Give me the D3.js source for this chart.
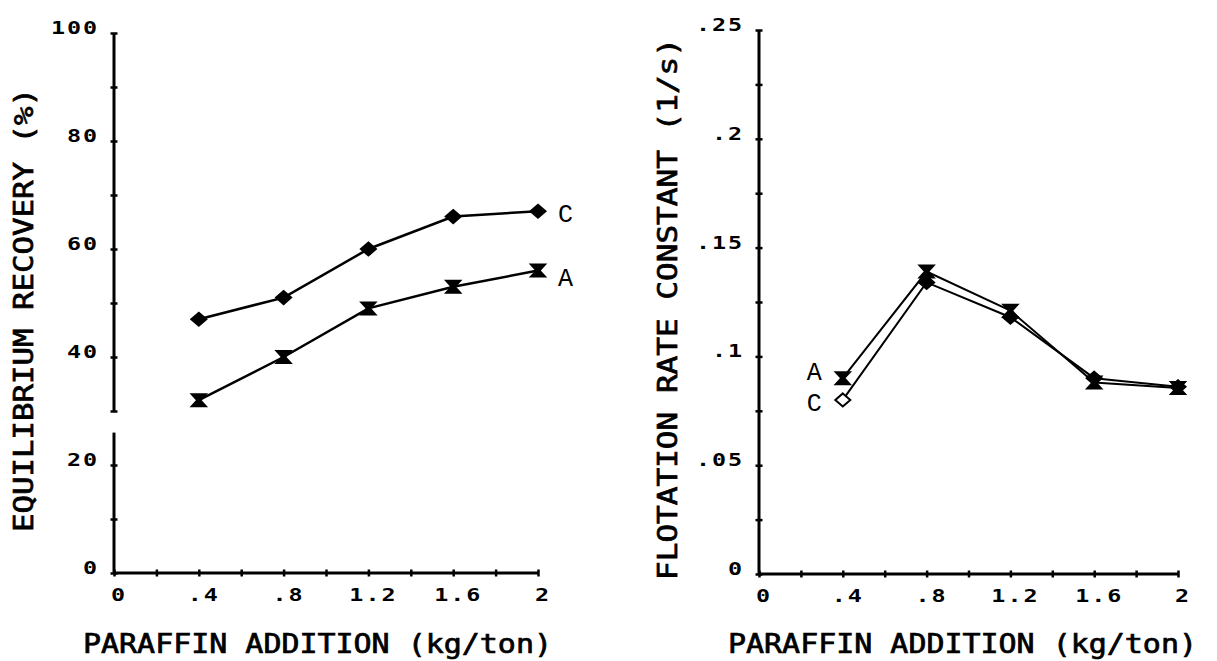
<!DOCTYPE html>
<html>
<head>
<meta charset="utf-8">
<script src="https://cdn.jsdelivr.net/npm/d3@7"></script>
<style>
  body { margin: 0; background: #fff; }
  svg { display: block; }
  .tick-label { font-family: "DejaVu Sans Mono", monospace; font-weight: bold; font-size: 18px; letter-spacing: 1.5px; fill: #000; }
  .title { font-family: "DejaVu Sans Mono", monospace; font-size: 26px; fill: #000; stroke: #000; stroke-width: 0.7px; }
  .series-label { font-family: "Liberation Mono", "Courier New", monospace; font-size: 25px; fill: #000; }
</style>
</head>
<body>
<svg id="chart" width="1217" height="661"></svg>
<script>
// Paraffin addition (kg/ton)
const paraffin = [0.4, 0.8, 1.2, 1.6, 2.0];

// Equilibrium recovery (%)
const recoveryC = [47, 51, 60, 66, 67];
const recoveryA = [32, 40, 49, 53, 56];

// Flotation rate constant (1/s)
const rateA = [0.090, 0.139, 0.121, 0.088, 0.0855];
const rateC = [0.080, 0.134, 0.118, 0.090, 0.086];

// Axis ticks
const xTickValues = [0, 0.4, 0.8, 1.2, 1.6, 2];
const xMinorStep = 0.2;
const recoveryTickValues = [0, 20, 40, 60, 80, 100];
const recoveryMinorStep = 10;
const rateTickValues = [0, 0.05, 0.1, 0.15, 0.2, 0.25];
const rateMinorStep = 0.025;
const recoveryAxisGap = [26, 30]; // break in the recovery axis line

const xTitle = "PARAFFIN ADDITION (kg/ton)";
const recoveryTitle = "EQUILIBRIUM RECOVERY (%)";
const rateTitle = "FLOTATION RATE CONSTANT (1/s)";

const svg = d3.select("#chart");

// strip leading zero: 0.25 -> ".25"
const fmt = d => d === 0 ? "0" : String(+d.toFixed(3)).replace(/^0\./, ".");

const diamond = "M0,-6.5L7.5,0L0,6.5L-7.5,0Z";
const hourglass = "M-7,-6H7L1.5,0L7,6H-7L-1.5,0Z";

// wide, square plotter-style digits
const labelScaleX = 1.3;

function drawPanel(cfg) {
  const x = d3.scaleLinear().domain([0, 2]).range(cfg.xRange);
  const y = d3.scaleLinear().domain(cfg.yDomain).range(cfg.yRange);
  const g = svg.append("g");
  const x0 = x(0), y0 = y(cfg.yDomain[0]);

  const xMinor = d3.range(0, 2 + 1e-9, xMinorStep);
  const yMinor = d3.range(cfg.yDomain[0], cfg.yDomain[1] + 1e-9, cfg.yMinorStep);

  // tick crosses: draw an axis on each side of the line
  [d3.axisBottom, d3.axisTop].forEach(ax => {
    g.append("g")
      .attr("transform", `translate(0,${y0})`)
      .call(ax(x).tickValues(xMinor).tickSize(3.5).tickFormat(""))
      .call(s => s.select(".domain").remove())
      .call(s => s.selectAll("line").attr("stroke-width", 2.5));
  });
  [d3.axisLeft, d3.axisRight].forEach(ax => {
    g.append("g")
      .attr("transform", `translate(${x0},0)`)
      .call(ax(y).tickValues(yMinor).tickSize(3.5).tickFormat(""))
      .call(s => s.select(".domain").remove())
      .call(s => s.selectAll("line").attr("stroke-width", 2.5));
  });

  // axis lines
  g.append("line")
    .attr("x1", x0).attr("x2", x(2)).attr("y1", y0).attr("y2", y0)
    .attr("stroke", "#000").attr("stroke-width", 3);
  const segs = cfg.gap
    ? [[cfg.yDomain[0], cfg.gap[0]], [cfg.gap[1], cfg.yDomain[1]]]
    : [cfg.yDomain];
  segs.forEach(([a, b]) => {
    g.append("line")
      .attr("x1", x0).attr("x2", x0).attr("y1", y(a)).attr("y2", y(b))
      .attr("stroke", "#000").attr("stroke-width", 3);
  });

  // tick labels
  g.selectAll(".xl").data(xTickValues).join("text")
    .attr("class", "tick-label")
    .attr("transform", d => `translate(${x(d) + 5},${y0 + 28}) scale(${labelScaleX},1)`)
    .attr("text-anchor", "middle")
    .text(fmt);
  g.selectAll(".yl").data(cfg.yTicks).join("text")
    .attr("class", "tick-label")
    .attr("transform", d => `translate(${x0 - 15},${y(d) + 1}) scale(${labelScaleX},1)`)
    .attr("text-anchor", "end")
    .text(fmt);

  // titles
  g.append("text").attr("class", "title")
    .attr("x", cfg.xTitleX).attr("y", 653)
    .attr("textLength", 469).attr("lengthAdjust", "spacingAndGlyphs")
    .text(xTitle);
  g.append("text").attr("class", "title")
    .attr("transform", `translate(${cfg.yTitle.x},${cfg.yTitle.y}) rotate(-90)`)
    .attr("textLength", cfg.yTitle.len).attr("lengthAdjust", "spacingAndGlyphs")
    .text(cfg.yTitle.text);

  // series
  const line = d3.line().x(d => x(d[0])).y(d => y(d[1]));
  cfg.series.forEach(s => {
    const pts = paraffin.map((p, i) => [p, s.values[i]]);
    g.append("path").datum(pts)
      .attr("d", line).attr("fill", "none")
      .attr("stroke", "#000").attr("stroke-width", cfg.lineWidth);
    g.selectAll(null).data(pts).join("path")
      .attr("transform", d => `translate(${x(d[0])},${y(d[1])})`)
      .attr("d", s.marker)
      .attr("fill", (d, i) => s.openFirst && i === 0 ? "#fff" : "#000")
      .attr("stroke", "#000").attr("stroke-width", 2);
    const anchorPt = pts[s.labelAt];
    g.append("text").attr("class", "series-label")
      .attr("x", x(anchorPt[0]) + s.labelDx)
      .attr("y", y(anchorPt[1]) + s.labelDy)
      .attr("text-anchor", s.labelDx < 0 ? "end" : "start")
      .text(s.name);
  });
}

drawPanel({
  xRange: [114, 538],
  yDomain: [0, 100], yRange: [573, 33],
  yTicks: recoveryTickValues, yMinorStep: recoveryMinorStep,
  gap: recoveryAxisGap,
  xTitleX: 83,
  yTitle: { x: 33, y: 532, len: 444, text: recoveryTitle },
  lineWidth: 2.5,
  series: [
    { name: "C", values: recoveryC, marker: diamond, labelAt: 4, labelDx: 20, labelDy: 11 },
    { name: "A", values: recoveryA, marker: hourglass, labelAt: 4, labelDx: 20, labelDy: 15 }
  ]
});

drawPanel({
  xRange: [759, 1178],
  yDomain: [0, 0.25], yRange: [574, 30],
  yTicks: rateTickValues, yMinorStep: rateMinorStep,
  gap: null,
  xTitleX: 728,
  yTitle: { x: 677, y: 580, len: 542, text: rateTitle },
  lineWidth: 2,
  series: [
    { name: "A", values: rateA, marker: hourglass, labelAt: 0, labelDx: -21, labelDy: 2 },
    { name: "C", values: rateC, marker: diamond, openFirst: true, labelAt: 0, labelDx: -21, labelDy: 11 }
  ]
});
</script>
</body>
</html>
